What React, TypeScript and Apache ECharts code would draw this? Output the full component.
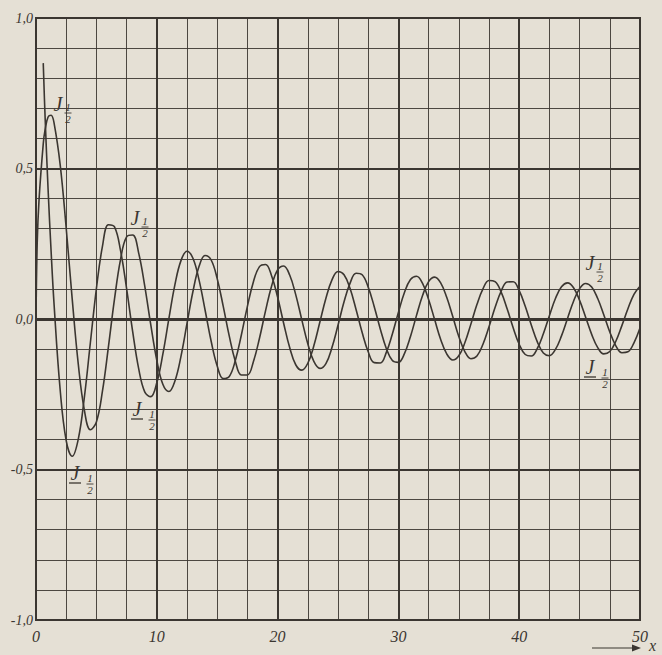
import React, { useEffect, useRef } from "react";
import * as echarts from "echarts";

// Abscissae of the tabulated points
const xs = [
  0, 0.1, 0.25, 0.6, 0.75, 1, 1.25, 1.5, 2, 2.5, 3, 3.5, 4, 4.5, 5, 5.5, 6, 6.5, 7, 7.5, 8, 8.5, 9, 9.5,
  10, 10.5, 11, 11.5, 12, 12.5, 13, 13.5, 14, 14.5, 15, 15.5, 16, 16.5, 17, 17.5, 18, 18.5, 19, 19.5,
  20, 20.5, 21, 21.5, 22, 22.5, 23, 23.5, 24, 24.5, 25, 25.5, 26, 26.5, 27, 27.5, 28, 28.5, 29, 29.5,
  30, 30.5, 31, 31.5, 32, 32.5, 33, 33.5, 34, 34.5, 35, 35.5, 36, 36.5, 37, 37.5, 38, 38.5, 39, 39.5,
  40, 40.5, 41, 41.5, 42, 42.5, 43, 43.5, 44, 44.5, 45, 45.5, 46, 46.5, 47, 47.5, 48, 48.5, 49, 49.5, 50,
];

// J_{1/2}(x)
const jHalf = [
  0, 0.252, 0.395, 0.582, 0.628, 0.671, 0.677, 0.65, 0.513, 0.302, 0.065, -0.15, -0.302, -0.368, -0.342, -0.24, -0.091, 0.067, 0.198, 0.273, 0.279, 0.219, 0.11, -0.019,
  -0.137, -0.217, -0.241, -0.206, -0.124, -0.015, 0.093, 0.175, 0.211, 0.196, 0.134, 0.042, -0.057, -0.14, -0.186, -0.186, -0.141, -0.064, 0.027, 0.109,
  0.163, 0.176, 0.146, 0.081, -0.002, -0.082, -0.141, -0.164, -0.148, -0.095, -0.021, 0.057, 0.119, 0.152, 0.147, 0.106, 0.041, -0.033, -0.098, -0.138,
  -0.144, -0.115, -0.058, 0.012, 0.078, 0.124, 0.139, 0.12, 0.072, 0.008, -0.058, -0.108, -0.132, -0.123, -0.084, -0.026, 0.038, 0.092, 0.123, 0.124,
  0.094, 0.042, -0.02, -0.076, -0.113, -0.122, -0.101, -0.056, 0.002, 0.059, 0.101, 0.118, 0.106, 0.068, 0.014, -0.043, -0.089, -0.112, -0.109, -0.079, -0.03,
];

// J_{-1/2}(x); the curve is not drawn where it runs off the top of the sheet
const jMinusHalf: (number | null)[] = [
  null, null, null, 0.85, 0.674, 0.431, 0.225, 0.046, -0.235, -0.404, -0.456, -0.399, -0.261, -0.079, 0.101, 0.241, 0.313, 0.306, 0.227, 0.101, -0.041, -0.165, -0.242, -0.258,
  -0.212, -0.117, 0.001, 0.114, 0.194, 0.225, 0.201, 0.129, 0.029, -0.074, -0.156, -0.198, -0.191, -0.138, -0.053, 0.042, 0.124, 0.174, 0.181, 0.144,
  0.073, -0.014, -0.095, -0.152, -0.17, -0.147, -0.089, -0.01, 0.069, 0.13, 0.158, 0.147, 0.101, 0.031, -0.045, -0.109, -0.145, -0.146, -0.111, -0.05,
  0.022, 0.088, 0.131, 0.142, 0.118, 0.065, -0.002, -0.068, -0.116, -0.136, -0.122, -0.079, -0.017, 0.048, 0.1, 0.128, 0.124, 0.09, 0.034, -0.029,
  -0.084, -0.118, -0.123, -0.098, -0.049, 0.011, 0.068, 0.107, 0.12, 0.104, 0.062, 0.006, -0.051, -0.095, -0.116, -0.108, -0.074, -0.022, 0.034, 0.082, 0.109,
];

const INK = "#3b3631";
const PAPER = "#e5e0d5";
const SERIF = '"Liberation Serif", "DejaVu Serif", serif';

// Curve captions: J with a stacked 1/2 subscript, optionally negative
function caption(cx: number, cy: number, negative: boolean) {
  const fx = negative ? 15 : 10;
  const top = negative ? 5 : 3;
  const children: any[] = [
    {
      type: "text",
      x: 0,
      y: 0,
      style: { text: "J", font: `italic 20px ${SERIF}`, fill: INK, align: "center", verticalAlign: "middle" },
    },
    {
      type: "text",
      x: fx,
      y: top,
      style: { text: "1", font: `italic 11px ${SERIF}`, fill: INK, align: "center", verticalAlign: "middle" },
    },
    {
      type: "line",
      shape: { x1: fx - 3.5, y1: top + 6, x2: fx + 3.5, y2: top + 6 },
      style: { stroke: INK, lineWidth: 0.9 },
    },
    {
      type: "text",
      x: fx,
      y: top + 12,
      style: { text: "2", font: `italic 11px ${SERIF}`, fill: INK, align: "center", verticalAlign: "middle" },
    },
  ];
  if (negative) {
    children.push({
      type: "line",
      shape: { x1: -6, y1: 10, x2: 6, y2: 10 },
      style: { stroke: INK, lineWidth: 1.3 },
    });
  }
  return { type: "group", x: cx, y: cy, children, silent: true };
}

export default function App() {
  const ref = useRef<HTMLDivElement>(null);

  useEffect(() => {
    document.body.style.margin = "0";
    document.body.style.background = PAPER;
    const chart = echarts.init(ref.current!, null, { renderer: "svg" });

    const toPairs = (ys: (number | null)[]) =>
      xs.map((x, i) => [x, ys[i]]).filter((p) => p[1] !== null);

    const axisText = { fontStyle: "italic", fontFamily: SERIF, color: INK };

    chart.setOption({
      animation: false,
      backgroundColor: PAPER,
      grid: { left: 36, top: 18, right: 22, bottom: 35, show: true, borderColor: INK, borderWidth: 2 },
      xAxis: [
        {
          type: "value",
          min: 0,
          max: 50,
          interval: 2.5,
          position: "bottom",
          axisLine: { show: false },
          axisTick: { show: false },
          axisLabel: { show: false },
          splitLine: { show: true, lineStyle: { color: INK, width: 1, opacity: 0.9 } },
        },
        {
          type: "value",
          min: 0,
          max: 50,
          interval: 10,
          position: "bottom",
          axisLine: { show: false },
          axisTick: { show: false },
          axisLabel: { show: true, ...axisText, fontSize: 16, margin: 8 },
          splitLine: { show: true, lineStyle: { color: INK, width: 2 } },
        },
      ],
      yAxis: [
        {
          type: "value",
          min: -1,
          max: 1,
          interval: 0.1,
          position: "left",
          axisLine: { show: false },
          axisTick: { show: false },
          axisLabel: { show: false },
          splitLine: { show: true, lineStyle: { color: INK, width: 1, opacity: 0.9 } },
        },
        {
          type: "value",
          min: -1,
          max: 1,
          interval: 0.5,
          position: "left",
          axisLine: { show: false },
          axisTick: { show: false },
          axisLabel: {
            show: true,
            ...axisText,
            fontSize: 14,
            margin: 3,
            formatter: (v: number) => v.toFixed(1).replace(".", ","),
          },
          splitLine: { show: true, lineStyle: { color: INK, width: 2 } },
        },
      ],
      series: [
        {
          name: "J1/2",
          type: "line",
          xAxisIndex: 0,
          yAxisIndex: 0,
          data: toPairs(jHalf),
          showSymbol: false,
          smooth: 0.4,
          lineStyle: { color: INK, width: 1.6 },
          markLine: {
            silent: true,
            symbol: ["none", "none"],
            label: { show: false },
            lineStyle: { color: INK, width: 3, type: "solid" },
            data: [{ yAxis: 0 }],
          },
        },
        {
          name: "J-1/2",
          type: "line",
          xAxisIndex: 0,
          yAxisIndex: 0,
          data: toPairs(jMinusHalf),
          showSymbol: false,
          smooth: 0.4,
          lineStyle: { color: INK, width: 1.6 },
        },
      ],
      graphic: [
        caption(58, 104, false),
        caption(135, 218, false),
        caption(137, 409, true),
        caption(75, 473, true),
        caption(590, 263, false),
        caption(590, 367, true),
        {
          type: "line",
          shape: { x1: 592, y1: 648, x2: 636, y2: 648 },
          style: { stroke: INK, lineWidth: 1.2 },
          silent: true,
        },
        {
          type: "polygon",
          shape: { points: [[641, 648], [632, 644.5], [632, 651.5]] },
          style: { fill: INK },
          silent: true,
        },
        {
          type: "text",
          x: 649,
          y: 645,
          style: { text: "x", font: `italic 16px ${SERIF}`, fill: INK, align: "left", verticalAlign: "middle" },
          silent: true,
        },
      ],
    });

    return () => chart.dispose();
  }, []);

  return <div ref={ref} style={{ width: 662, height: 655 }} />;
}
